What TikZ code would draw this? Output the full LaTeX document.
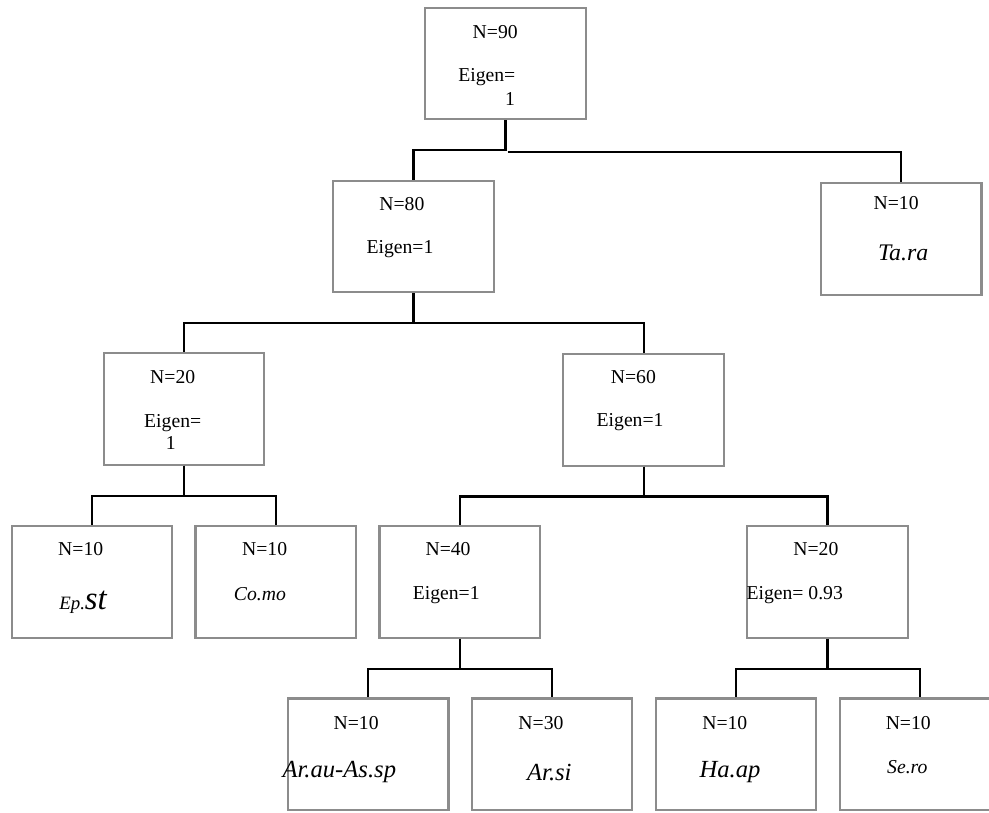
\documentclass[tikz,border=0pt]{standalone}
\usepackage{fontspec}
\setmainfont{Liberation Serif}
\usepackage{tikz}
\usetikzlibrary{calc}

\begin{document}
\begin{tikzpicture}[
  box/.style={draw=black!45,line width=1.3pt,minimum width=3.44cm,minimum height=2.39cm,inner sep=0pt},
  txt/.style={font=\fontsize{12}{14}\selectfont,inner sep=0pt},
  sp/.style={font=\fontsize{15}{18}\selectfont\itshape,inner sep=0pt},
  spsmall/.style={font=\fontsize{12}{14}\selectfont\itshape,inner sep=0pt},
  conn/.style={line width=1.3pt,black}]
\useasboundingbox (0,0) rectangle (21.19,-17.40);
\clip (0,0) rectangle (21.19,-17.40);
% boxes
\node[box] (n90) at (10.83,-1.36) {};
\node[box] (n80) at (8.86,-5.07) {};
\node[box] (tara) at (19.31,-5.12) {};
\node[box] (n20a) at (3.94,-8.76) {};
\node[box] (n60) at (13.79,-8.78) {};
\node[box] (epst) at (1.97,-12.47) {};
\node[box] (como) at (5.91,-12.47) {};
\node[box] (n40) at (9.85,-12.47) {};
\node[box] (n20b) at (17.73,-12.47) {};
\node[box] (araus) at (7.89,-16.16) {};
\node[box] (arsi) at (11.83,-16.16) {};
\node[box] (haap) at (15.77,-16.16) {};
\node[box] (sero) at (19.72,-16.16) {};
% texts
\node[txt] (t90a) at ($(n90)+(-0.22,0.68)$) {N=90};
\node[txt] (t90b) at ($(n90)+(-0.40,-0.29)$) {Eigen=};
\node[txt] (t90c) at ($(n90)+(0.10,-0.76)$) {1};
\node[txt] (t80a) at ($(n80)+(-0.25,0.70)$) {N=80};
\node[txt] (t80b) at ($(n80)+(-0.29,-0.27)$) {Eigen=1};
\node[txt] (ttaa) at ($(tara)+(-0.11,0.77)$) {N=10};
\node[sp,font=\fontsize{14.5}{17}\selectfont\itshape] (ttab) at ($(tara)+(0.04,-0.30)$) {Ta.ra};
\node[txt] (t20a) at ($(n20a)+(-0.24,0.69)$) {N=20};
\node[txt] (t20b) at ($(n20a)+(-0.24,-0.30)$) {Eigen=};
\node[txt] (t20c) at ($(n20a)+(-0.28,-0.73)$) {1};
\node[txt] (t60a) at ($(n60)+(-0.22,0.70)$) {N=60};
\node[txt] (t60b) at ($(n60)+(-0.29,-0.27)$) {Eigen=1};
\node[txt] (tepa) at ($(epst)+(-0.24,0.70)$) {N=10};
\node[txt] (tepb) at ($(epst)+(-0.19,-0.44)$) {{\fontsize{11.5}{14}\selectfont\itshape Ep.}{\fontsize{20}{22}\selectfont\itshape st}};
\node[txt] (tcoa) at ($(como)+(-0.24,0.70)$) {N=10};
\node[spsmall] (tcob) at ($(como)+(-0.34,-0.25)$) {Co.mo};
\node[txt] (t40a) at ($(n40)+(-0.25,0.71)$) {N=40};
\node[txt] (t40b) at ($(n40)+(-0.29,-0.28)$) {Eigen=1};
\node[txt] (t20d) at ($(n20b)+(-0.25,0.71)$) {N=20};
\node[txt,anchor=west] (t20e) at ($(n20b.west)+(0,-0.28)$) {Eigen= 0.93};
\node[txt] (tara1) at ($(araus)+(-0.26,0.66)$) {N=10};
\node[sp] (tara2) at ($(araus)+(-0.62,-0.39)$) {Ar.au-As.sp};
\node[txt] (tars1) at ($(arsi)+(-0.24,0.66)$) {N=30};
\node[sp] (tars2) at ($(arsi)+(-0.06,-0.39)$) {Ar.si};
\node[txt] (thaa) at ($(haap)+(-0.24,0.66)$) {N=10};
\node[sp] (thab) at ($(haap)+(-0.13,-0.39)$) {Ha.ap};
\node[txt] (tsea) at ($(sero)+(-0.26,0.66)$) {N=10};
\node[spsmall] (tseb) at ($(sero)+(-0.28,-0.28)$) {Se.ro};
% connectors
\draw[conn] (n90.south)--++(0,-0.64)-|(n80.north);
\draw[conn] ($(n90.south)+(0.05,-0.68)$)-|(tara.north);
\foreach \p/\c in {n80/n20a,n80/n60,n20a/epst,n20a/como,n60/n40,n60/n20b,n40/araus,n40/arsi,n20b/haap,n20b/sero}
  \draw[conn] (\p.south)--++(0,-0.64)-|(\c.north);
\end{tikzpicture}
\end{document}
